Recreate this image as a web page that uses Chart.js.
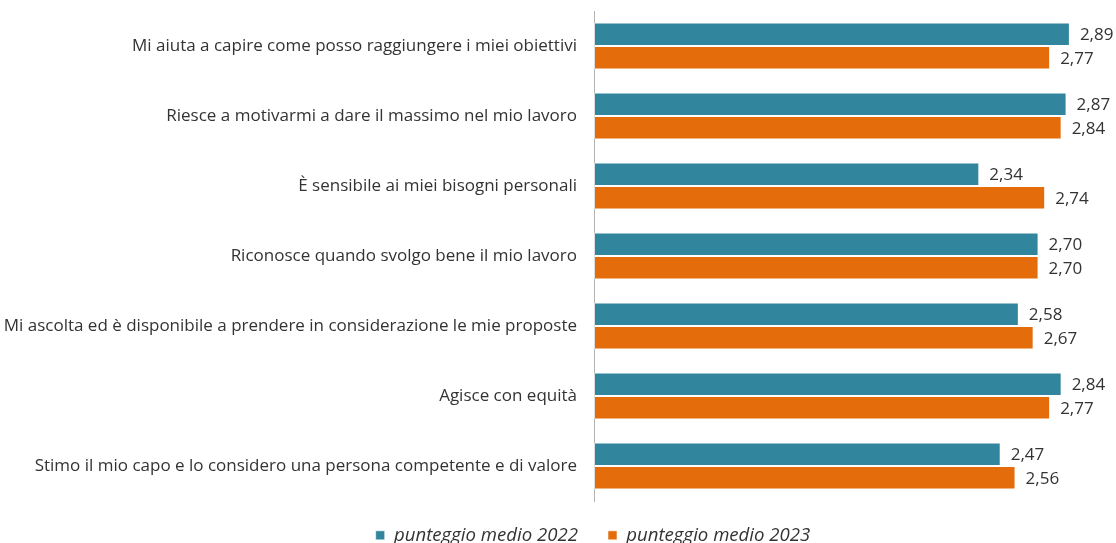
<!DOCTYPE html>
<html>
<head>
<meta charset="utf-8">
<script src="https://cdn.jsdelivr.net/npm/chart.js@4/dist/chart.umd.min.js"></script>
<style>
  html, body { margin: 0; padding: 0; background: #fff; overflow: hidden; }
  #wrap { width: 1116px; height: 543px; }
  #myChart { display: block; }
</style>
</head>
<body>
<div id="wrap"><canvas id="myChart" width="1116" height="543"></canvas></div>
<script>
const categories = [
    'Mi aiuta a capire come posso raggiungere i miei obiettivi',
    'Riesce a motivarmi a dare il massimo nel mio lavoro',
    'È sensibile ai miei bisogni personali',
    'Riconosce quando svolgo bene il mio lavoro',
    'Mi ascolta ed è disponibile a prendere in considerazione le mie proposte',
    'Agisce con equità',
    'Stimo il mio capo e lo considero una persona competente e di valore'
];
const values2022 = [2.89, 2.87, 2.34, 2.70, 2.58, 2.84, 2.47];
const values2023 = [2.77, 2.84, 2.74, 2.70, 2.67, 2.77, 2.56];
const seriesNames = ['punteggio medio 2022', 'punteggio medio 2023'];

const TEAL = '#31859C';
const ORANGE = '#E46C0A';
const TEXT = '#333333';
const FONT = '"Open Sans", sans-serif';

// value labels to the right of each bar, with a decimal comma
const valueLabels = {
    id: 'valueLabels',
    afterDatasetsDraw(chart) {
        const ctx = chart.ctx;
        ctx.save();
        ctx.font = '17px ' + FONT;
        ctx.fillStyle = TEXT;
        ctx.textAlign = 'left';
        ctx.textBaseline = 'middle';
        chart.data.datasets.forEach((ds, i) => {
            chart.getDatasetMeta(i).data.forEach((bar, j) => {
                ctx.fillText(ds.data[j].toFixed(2).replace('.', ','), bar.x + 10, bar.y + 1);
            });
        });
        ctx.restore();
    }
};

// keep the legend low and a little right of centre, close under the plot
const legendPlace = {
    id: 'legendPlace',
    beforeLayout(chart) {
        const legend = chart.legend;
        if (!legend || legend._fitWrapped) return;
        const fit = legend.fit;
        legend.fit = function () {
            fit.call(this);
            if (this.isHorizontal()) this.height = 42;
        };
        legend._fitWrapped = true;
    },
    afterLayout(chart) {
        const legend = chart.legend;
        // the legend clips to its own box, so let it run to the bottom edge
        legend.top -= 5;
        legend.bottom = chart.height;
        legend.height = legend.bottom - legend.top;
        legend.left += 49;
        legend.right += 49;
    }
};

const ctx = document.getElementById('myChart').getContext('2d');

new Chart(ctx, {
    type: 'bar',
    data: {
        labels: categories,
        datasets: [
            {
                label: seriesNames[0],
                data: values2022,
                backgroundColor: TEAL,
                borderColor: 'rgba(255,255,255,0.55)',
                borderWidth: 1,
                borderSkipped: false
            },
            {
                label: seriesNames[1],
                data: values2023,
                backgroundColor: ORANGE,
                borderColor: 'rgba(255,255,255,0.55)',
                borderWidth: 1,
                borderSkipped: false
            }
        ]
    },
    options: {
        indexAxis: 'y',
        responsive: false,
        animation: false,
        devicePixelRatio: 1,
        layout: { padding: { top: 11, right: 28, left: 0, bottom: 0 } },
        datasets: {
            bar: { categoryPercentage: 0.67, barPercentage: 1 }
        },
        scales: {
            x: {
                display: false,
                min: 0,
                max: 3
            },
            y: {
                grid: { display: false, drawTicks: false },
                border: { display: true, color: '#b3b3b3', width: 1 },
                ticks: {
                    padding: 17,
                    color: TEXT,
                    font: { family: FONT, size: 17 }
                },
                afterFit(scale) {
                    scale.width = 594;
                    scale.paddingTop = 0;
                    scale.paddingBottom = 0;
                }
            }
        },
        plugins: {
            tooltip: { enabled: false },
            legend: {
                position: 'bottom',
                labels: {
                    boxWidth: 9,
                    boxHeight: 9,
                    padding: 30,
                    color: TEXT,
                    font: { family: FONT, size: 18.6, style: 'italic' }
                }
            }
        }
    },
    plugins: [valueLabels, legendPlace]
});
</script>
</body>
</html>
